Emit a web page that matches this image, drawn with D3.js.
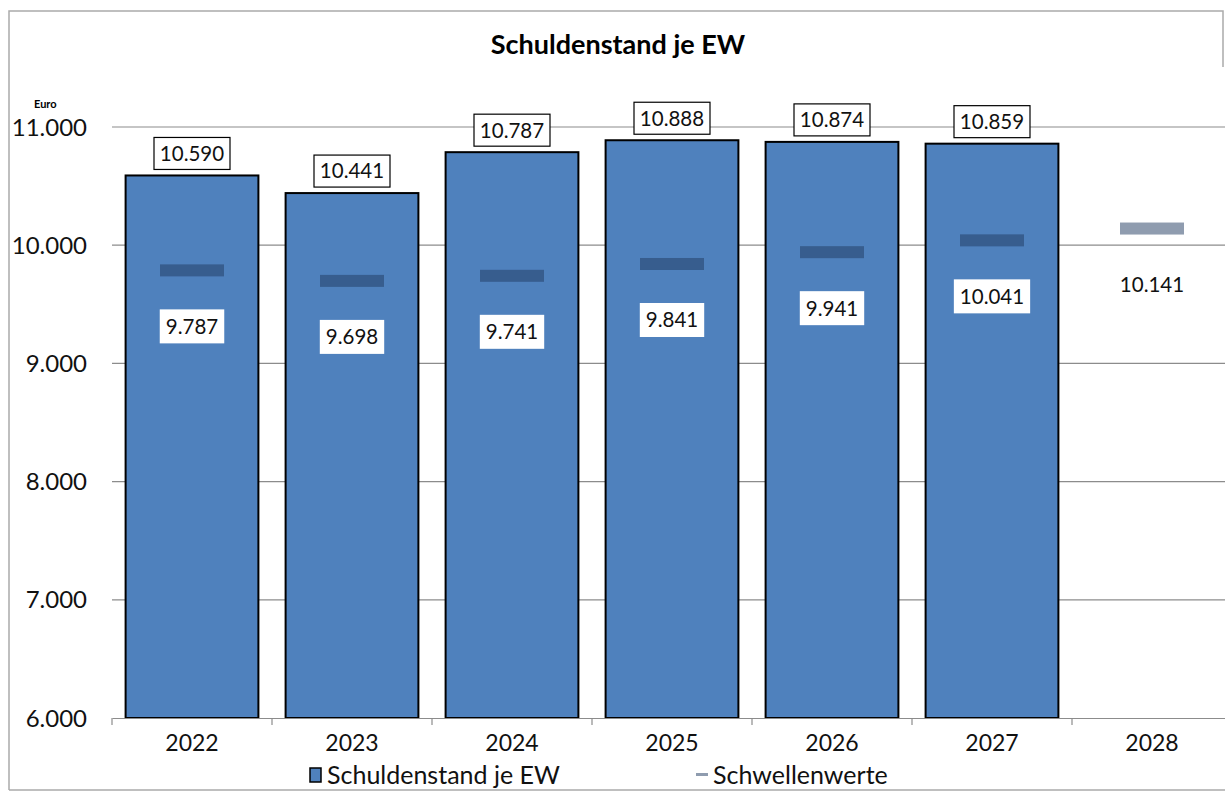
<!DOCTYPE html>
<meta charset="utf-8">
<script src="https://cdn.jsdelivr.net/npm/d3@7"></script>
<style>
  body { margin: 0; background: #fff; }
  text { font-family: Lato, "Open Sans", sans-serif; }
</style>
<div id="chart"></div>
<script>

// data
var years = ["2022", "2023", "2024", "2025", "2026", "2027", "2028"]
var debt = [10590, 10441, 10787, 10888, 10874, 10859, null]
var thresholds = [9787, 9698, 9741, 9841, 9941, 10041, 10141]
var yTicks = [6000, 7000, 8000, 9000, 10000, 11000]

var width = 1225, height = 794
var fmt = d3.formatLocale({decimal: ",", thousands: ".", grouping: [3], currency: ["", "€"]}).format(",d")

var svg = d3.select("#chart").append("svg")
  .attr("width", width)
  .attr("height", height)

// outer frame
svg.append("path")
  .attr("d", "M9,790 L9,11 L1223,11 L1223,67 M9,790 L1225,790")
  .attr("fill", "none")
  .attr("stroke", "#aaa")
  .attr("stroke-width", 1.5)

var x = d3.scaleBand()
  .domain(years)
  .range([112, 1232])
  .paddingInner(0.17)
  .paddingOuter(0.085)

var y = d3.scaleLinear()
  .domain([6000, 11000])
  .range([718, 127])

// gridlines
svg.append("g")
  .selectAll("line")
  .data(yTicks.slice(1))
  .enter()
  .append("line")
    .attr("x1", 112)
    .attr("x2", 1225)
    .attr("y1", function(d){ return y(d) })
    .attr("y2", function(d){ return y(d) })
    .attr("stroke", "#8c8c8c")
    .attr("stroke-width", 1.2)

// y tick labels
svg.append("g")
  .selectAll("text")
  .data(yTicks)
  .enter()
  .append("text")
    .attr("x", 87)
    .attr("y", function(d){ return y(d) })
    .attr("dy", "0.36em")
    .attr("text-anchor", "end")
    .attr("font-size", 24)
    .attr("fill", "#111")
    .text(function(d){ return fmt(d) })

svg.append("text")
  .attr("x", 34)
  .attr("y", 108)
  .attr("font-size", 11)
  .attr("font-weight", "bold")
  .text("Euro")

// bars
var bars = years.map(function(d, i){ return {year: d, v: debt[i]} }).filter(function(d){ return d.v != null })

svg.append("g")
  .selectAll("rect")
  .data(bars)
  .enter()
  .append("rect")
    .attr("x", function(d){ return x(d.year) })
    .attr("width", x.bandwidth())
    .attr("y", function(d){ return y(d.v) })
    .attr("height", function(d){ return y(6000) - y(d.v) })
    .attr("fill", "#4f81bd")
    .attr("stroke", "#000")
    .attr("stroke-width", 2)

// x axis
var xAxis = d3.axisBottom(x).tickSize(0).tickSizeOuter(0)
var gx = svg.append("g")
  .attr("transform", "translate(0,718)")
  .call(xAxis)
gx.select(".domain").attr("stroke", "#8c8c8c").attr("stroke-width", 1.2)
gx.selectAll("text")
  .attr("font-size", 23)
  .attr("fill", "#111")
  .attr("dy", "1.3em")
  .style("font-family", "Lato, 'Open Sans', sans-serif")
// tick marks at band boundaries
svg.append("g")
  .selectAll("line")
  .data(years)
  .enter()
  .append("line")
    .attr("x1", function(d){ return x(d) - x.step() * x.paddingInner() / 2 })
    .attr("x2", function(d){ return x(d) - x.step() * x.paddingInner() / 2 })
    .attr("y1", 718)
    .attr("y2", 725)
    .attr("stroke", "#8c8c8c")
    .attr("stroke-width", 1.2)

// bar value labels
var barLabels = svg.append("g")
  .selectAll("g")
  .data(bars)
  .enter()
  .append("g")
    .attr("transform", function(d){ return "translate(" + (x(d.year) + x.bandwidth() / 2) + "," + (y(d.v) - 22) + ")" })
barLabels.append("rect")
  .attr("x", -38)
  .attr("y", -16)
  .attr("width", 76)
  .attr("height", 32)
  .attr("fill", "#fff")
  .attr("stroke", "#000")
  .attr("stroke-width", 1.2)
barLabels.append("text")
  .attr("text-anchor", "middle")
  .attr("dy", "0.36em")
  .attr("font-size", 20.5)
  .attr("fill", "#111")
  .text(function(d){ return fmt(d.v) })

// thresholds
var th = years.map(function(d, i){ return {year: d, v: thresholds[i]} })

svg.append("g")
  .selectAll("rect")
  .data(th)
  .enter()
  .append("rect")
    .attr("x", function(d){ return x(d.year) + x.bandwidth() / 2 - 32 })
    .attr("width", 64)
    .attr("y", function(d){ return y(d.v) - 6 })
    .attr("height", 12)
    .attr("fill", "#1f3a60")
    .attr("fill-opacity", 0.5)

var thLabels = svg.append("g")
  .selectAll("g")
  .data(th)
  .enter()
  .append("g")
    .attr("transform", function(d){ return "translate(" + (x(d.year) + x.bandwidth() / 2) + "," + (y(d.v) + 56) + ")" })
var thBoxes = thLabels.append("rect")
  .attr("y", -17)
  .attr("height", 34)
  .attr("fill", "#fff")
thLabels.append("text")
  .attr("text-anchor", "middle")
  .attr("dy", "0.36em")
  .attr("font-size", 20.5)
  .attr("fill", "#111")
  .text(function(d){ return fmt(d.v) })
thBoxes.each(function(){
  var w = this.parentNode.querySelector("text").getBBox().width + 12
  d3.select(this).attr("x", -w / 2).attr("width", w)
})

// title
svg.append("text")
  .attr("x", 618)
  .attr("y", 54)
  .attr("text-anchor", "middle")
  .attr("font-size", 27)
  .attr("font-weight", "bold")
  .text("Schuldenstand je EW")

// legend
var leg = svg.append("g")
leg.append("rect")
  .attr("x", 310).attr("y", 768).attr("width", 11).attr("height", 14)
  .attr("fill", "#4f81bd").attr("stroke", "#000").attr("stroke-width", 1.5)
leg.append("text")
  .attr("x", 327).attr("y", 775).attr("dy", "0.36em")
  .attr("font-size", 25).attr("fill", "#111")
  .text("Schuldenstand je EW")
leg.append("rect")
  .attr("x", 696).attr("y", 773).attr("width", 12).attr("height", 3)
  .attr("fill", "#8f9caf")
leg.append("text")
  .attr("x", 713).attr("y", 775).attr("dy", "0.36em")
  .attr("font-size", 25).attr("fill", "#111")
  .text("Schwellenwerte")

</script>
